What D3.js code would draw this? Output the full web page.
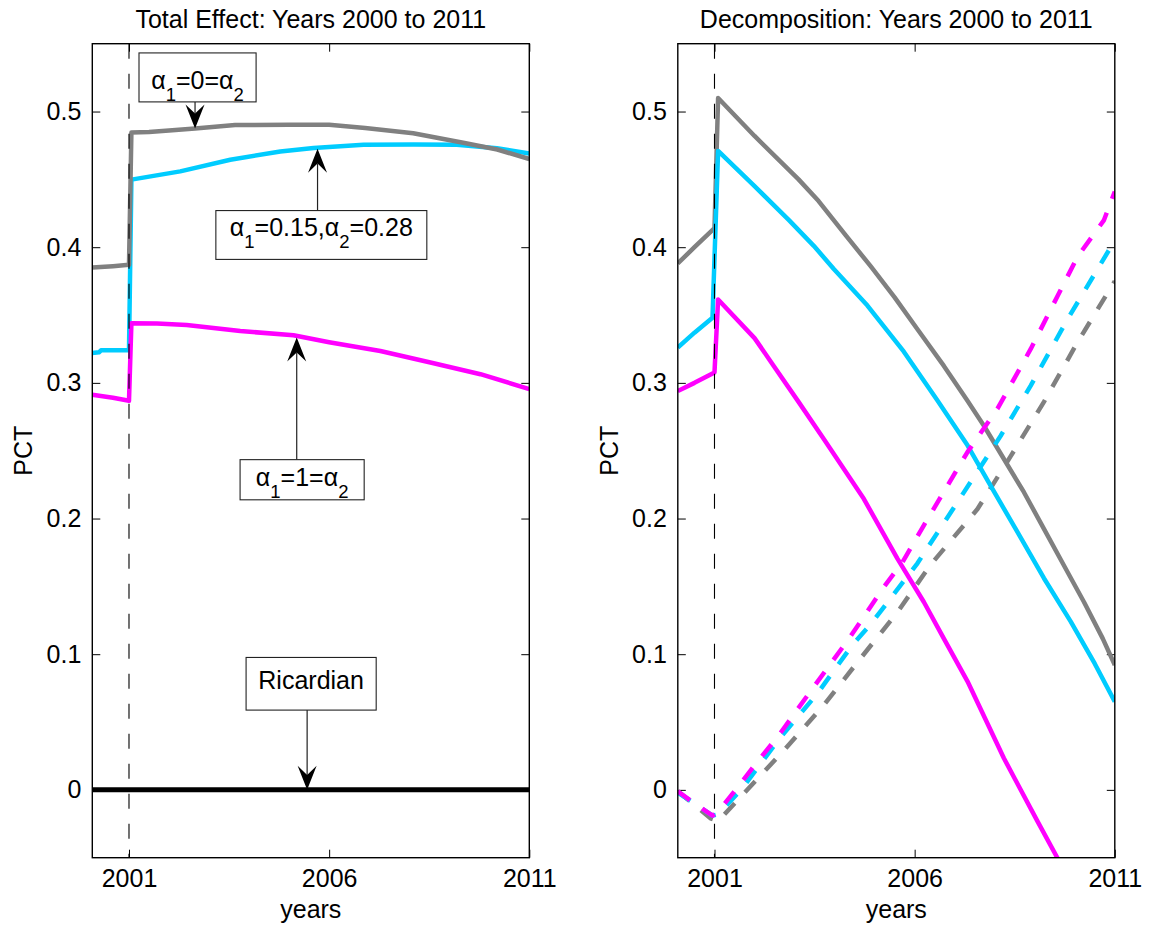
<!DOCTYPE html>
<html>
<head>
<meta charset="utf-8">
<script src="https://cdnjs.cloudflare.com/ajax/libs/d3/7.8.5/d3.min.js"></script>
<style>
body { margin: 0; background: #fff; }
svg { font-family: "Liberation Sans", Arial, Helvetica, sans-serif; }
.axis text { font-size: 25px; fill: #000; }
.axis line { stroke: #000; stroke-width: 1; }
.label { font-size: 25px; fill: #000; }
</style>
</head>
<body>
<svg id="chart"></svg>
<script>
// ---- data, [year, PCT] ----
const xTicks = [2001, 2006, 2011]
const yTicks = [0, 0.1, 0.2, 0.3, 0.4, 0.5]
const xDomain = [2000 + 1/12, 2011]
const yDomain = [-0.05, 0.55]
const breakYear = 2001

// left panel: total effect
const totalNoRule = [[2000.083,0.385],[2000.6,0.386],[2001.0,0.387],[2001.06,0.4846],[2001.5,0.485],[2002.0,0.486],[2002.65,0.4875],[2003.65,0.490],[2005.0,0.4903],[2006.0,0.4902],[2006.9,0.4878],[2008.1,0.484],[2009.35,0.477],[2010.2,0.472],[2011,0.465]]
const totalMixed = [[2000.083,0.322],[2000.25,0.3225],[2000.3,0.324],[2001.0,0.324],[2001.06,0.4498],[2002.28,0.4559],[2003.53,0.4645],[2004.78,0.4706],[2005.61,0.4731],[2006.86,0.4755],[2008.11,0.4757],[2009.19,0.4755],[2010.19,0.473],[2011,0.469]]
const totalFull = [[2000.083,0.2912],[2000.6,0.289],[2001.0,0.2868],[2001.06,0.3439],[2001.7,0.3437],[2002.44,0.3426],[2003.78,0.3382],[2005.11,0.3351],[2006.0,0.330],[2007.28,0.3235],[2008.53,0.315],[2009.78,0.3064],[2011,0.2954]]
const totalRicardian = [[2000.083,0],[2011,0]]

// right panel: decomposition (solid and dashed parts)
const decNoRule = [[2000.083,0.388],[2000.5,0.400],[2001.0,0.414],[2001.09,0.510],[2002.0,0.482],[2003.1,0.450],[2003.6,0.434],[2004.3,0.408],[2004.9,0.386],[2005.5,0.363],[2006.07,0.3395],[2006.73,0.3125],[2007.32,0.2868],[2007.73,0.2684],[2008.23,0.2439],[2008.73,0.2194],[2009.23,0.1924],[2009.73,0.1654],[2010.23,0.1385],[2010.7,0.1115],[2011,0.092]]
const decMixed = [[2000.083,0.326],[2000.5,0.337],[2000.95,0.348],[2001.09,0.471],[2002.0,0.445],[2002.86,0.420],[2003.48,0.401],[2003.98,0.384],[2004.82,0.357],[2005.73,0.323],[2006.57,0.287],[2007.32,0.254],[2007.9,0.224],[2008.57,0.190],[2009.23,0.156],[2009.9,0.124],[2010.5,0.093],[2011,0.065]]
const decFull = [[2000.083,0.294],[2000.5,0.300],[2001.0,0.3077],[2001.09,0.3615],[2002.0,0.333],[2002.48,0.3125],[2003.1,0.286],[2003.73,0.2586],[2004.73,0.2145],[2005.57,0.1704],[2006.23,0.1385],[2006.73,0.1115],[2007.32,0.080],[2008.23,0.0233],[2009.07,-0.0232],[2009.6,-0.052]]
const decNoRuleDash = [[2000.083,-0.001],[2000.5,-0.011],[2000.9,-0.021],[2001.09,-0.023],[2001.69,-0.004],[2002.73,0.029],[2003.73,0.0625],[2004.65,0.097],[2005.57,0.131],[2006.4,0.166],[2007.57,0.207],[2008.4,0.246],[2009.23,0.286],[2010.07,0.330],[2011,0.375]]
const decMixedDash = [[2000.083,-0.002],[2000.5,-0.010],[2000.95,-0.019],[2001.09,-0.018],[2001.69,0.001],[2002.6,0.037],[2003.57,0.071],[2004.44,0.1066],[2004.9,0.122],[2006.07,0.167],[2007.4,0.227],[2008.15,0.261],[2008.9,0.298],[2009.82,0.347],[2011,0.405]]
const decFullDash = [[2000.083,-0.001],[2000.5,-0.010],[2000.95,-0.019],[2001.09,-0.016],[2001.5,-0.001],[2002.0,0.018],[2002.6,0.040],[2003.48,0.076],[2004.36,0.1115],[2005.23,0.1495],[2005.7,0.168],[2006.23,0.195],[2007.32,0.249],[2008.07,0.281],[2008.9,0.325],[2009.57,0.364],[2010.07,0.393],[2010.73,0.420],[2011,0.441]]

// annotation boxes on the left panel, data units
const notes = [
  {parts:[["α"],["1","sub"],["=0=α"],["2","sub"]], box:[2001.25,0.5432,2004.175,0.5071], base:0.5167, tail:[2002.65,0.5071], tip:[2002.65,0.4875]},
  {parts:[["α"],["1","sub"],["=0.15,α"],["2","sub"],["=0.28"]], box:[2003.17,0.427,2008.44,0.391], base:0.4081, tail:[2005.71,0.427], tip:[2005.71,0.4726]},
  {parts:[["α"],["1","sub"],["=1=α"],["2","sub"]], box:[2003.775,0.2434,2006.875,0.2138], base:0.2243, tail:[2005.19,0.2434], tip:[2005.19,0.3334]},
  {parts:[["Ricardian"]], box:[2003.925,0.0976,2007.175,0.0588], base:0.0743, tail:[2005.45,0.0588], tip:[2005.45,0.0]}
]

const gray = "#808080", cyan = "#00CCFF", magenta = "#FF00FF"

// ---- layout ----
const width = 1152, height = 927
const W = 437, H = 814, marginTop = 43.7

const svg = d3.select("#chart").attr("width", width).attr("height", height)
svg.append("rect").attr("width", width).attr("height", height).attr("fill", "#fff")

const x = d3.scaleLinear().domain(xDomain).range([0, W])
const y = d3.scaleLinear().domain(yDomain).range([H, 0])
const line = d3.line().x(d => x(d[0])).y(d => y(d[1]))

const panels = [
  {left: 92.3, title: "Total Effect: Years 2000 to 2011",
   series: [
     {data: totalMixed, color: cyan, w: 4.5},
     {data: totalNoRule, color: gray, w: 4.5},
     {data: totalFull, color: magenta, w: 4.5},
     {data: totalRicardian, color: "#000", w: 5}
   ], notes: notes},
  {left: 677.8, title: "Decomposition: Years 2000 to 2011",
   series: [
     {data: decNoRule, color: gray, w: 4.5},
     {data: decNoRuleDash, color: gray, w: 4.5, dash: "15,15"},
     {data: decMixed, color: cyan, w: 4.5},
     {data: decMixedDash, color: cyan, w: 4.5, dash: "15,15"},
     {data: decFull, color: magenta, w: 4.5},
     {data: decFullDash, color: magenta, w: 4.5, dash: "15,15"}
   ], notes: []}
]

panels.forEach((p, i) => {
  const g = svg.append("g").attr("transform", `translate(${p.left},${marginTop})`)

  svg.append("clipPath").attr("id", "clip" + i)
    .append("rect").attr("width", W).attr("height", H)

  // axes, ticks pointing inward on all four sides
  g.append("g").attr("class", "axis").attr("transform", `translate(0,${H})`)
    .call(d3.axisBottom(x).tickValues(xTicks).tickSize(-8).tickPadding(12).tickFormat(d3.format("d")))
  g.append("g").attr("class", "axis")
    .call(d3.axisTop(x).tickValues(xTicks).tickSize(-8).tickFormat(""))
  g.append("g").attr("class", "axis")
    .call(d3.axisLeft(y).tickValues(yTicks).tickSize(-8).tickPadding(11).tickFormat(d => d))
  g.append("g").attr("class", "axis").attr("transform", `translate(${W},0)`)
    .call(d3.axisRight(y).tickValues(yTicks).tickSize(-8).tickFormat(""))
  g.selectAll(".axis .domain").remove()
  g.selectAll(".axis").attr("font-family", null).attr("font-size", null)

  // lines
  const lines = g.append("g").attr("clip-path", `url(#clip${i})`)
  p.series.forEach(s => {
    lines.append("path")
      .attr("d", line(s.data))
      .attr("fill", "none")
      .attr("stroke", s.color)
      .attr("stroke-width", s.w)
      .attr("stroke-linejoin", "round")
      .attr("stroke-dasharray", s.dash || null)
  })

  // break marker
  g.append("line")
    .attr("x1", x(breakYear)).attr("x2", x(breakYear))
    .attr("y1", 0).attr("y2", H)
    .attr("stroke", "#000").attr("stroke-width", 1.1)
    .attr("stroke-dasharray", "15,15")

  // frame
  g.append("rect").attr("width", W).attr("height", H)
    .attr("fill", "none").attr("stroke", "#000").attr("stroke-width", 1.4)

  // annotations
  p.notes.forEach(n => {
    const [tx, ty] = [x(n.tip[0]), y(n.tip[1])]
    const [sx, sy] = [x(n.tail[0]), y(n.tail[1])]
    const len = Math.hypot(tx - sx, ty - sy)
    const ux = (tx - sx) / len, uy = (ty - sy) / len
    const L = Math.min(24, len), nb = L * 0.62, hw = 9.5
    g.append("line")
      .attr("x1", sx).attr("y1", sy)
      .attr("x2", tx - ux * nb).attr("y2", ty - uy * nb)
      .attr("stroke", "#222").attr("stroke-width", 1.2)
    g.append("path")
      .attr("d", `M${tx},${ty}L${tx - ux*L - uy*hw},${ty - uy*L + ux*hw}L${tx - ux*nb},${ty - uy*nb}L${tx - ux*L + uy*hw},${ty - uy*L - ux*hw}Z`)
      .attr("fill", "#000")

    const bx0 = x(n.box[0]), by0 = y(n.box[1]), bx1 = x(n.box[2]), by1 = y(n.box[3])
    g.append("rect")
      .attr("x", bx0).attr("y", by0).attr("width", bx1 - bx0).attr("height", by1 - by0)
      .attr("fill", "#fff").attr("stroke", "#222").attr("stroke-width", 1.1)
    const t = g.append("text").attr("class", "label")
      .attr("x", (bx0 + bx1) / 2).attr("y", y(n.base))
      .attr("text-anchor", "middle")
    let shifted = false
    n.parts.forEach(pt => {
      const sub = pt[1] === "sub"
      const ts = t.append("tspan").text(pt[0])
      if (sub) { ts.attr("dy", 12).attr("font-size", 18.5); shifted = true }
      else if (shifted) { ts.attr("dy", -12); shifted = false }
    })
  })

  // titles and labels
  g.append("text").attr("class", "label")
    .attr("x", W / 2).attr("y", -16).attr("text-anchor", "middle").text(p.title)
  g.append("text").attr("class", "label")
    .attr("x", W / 2).attr("y", 874.3).attr("text-anchor", "middle").text("years")
  g.append("text").attr("class", "label")
    .attr("transform", "rotate(-90)")
    .attr("x", -H / 2).attr("y", -60.3).attr("text-anchor", "middle").text("PCT")
})
</script>
</body>
</html>
